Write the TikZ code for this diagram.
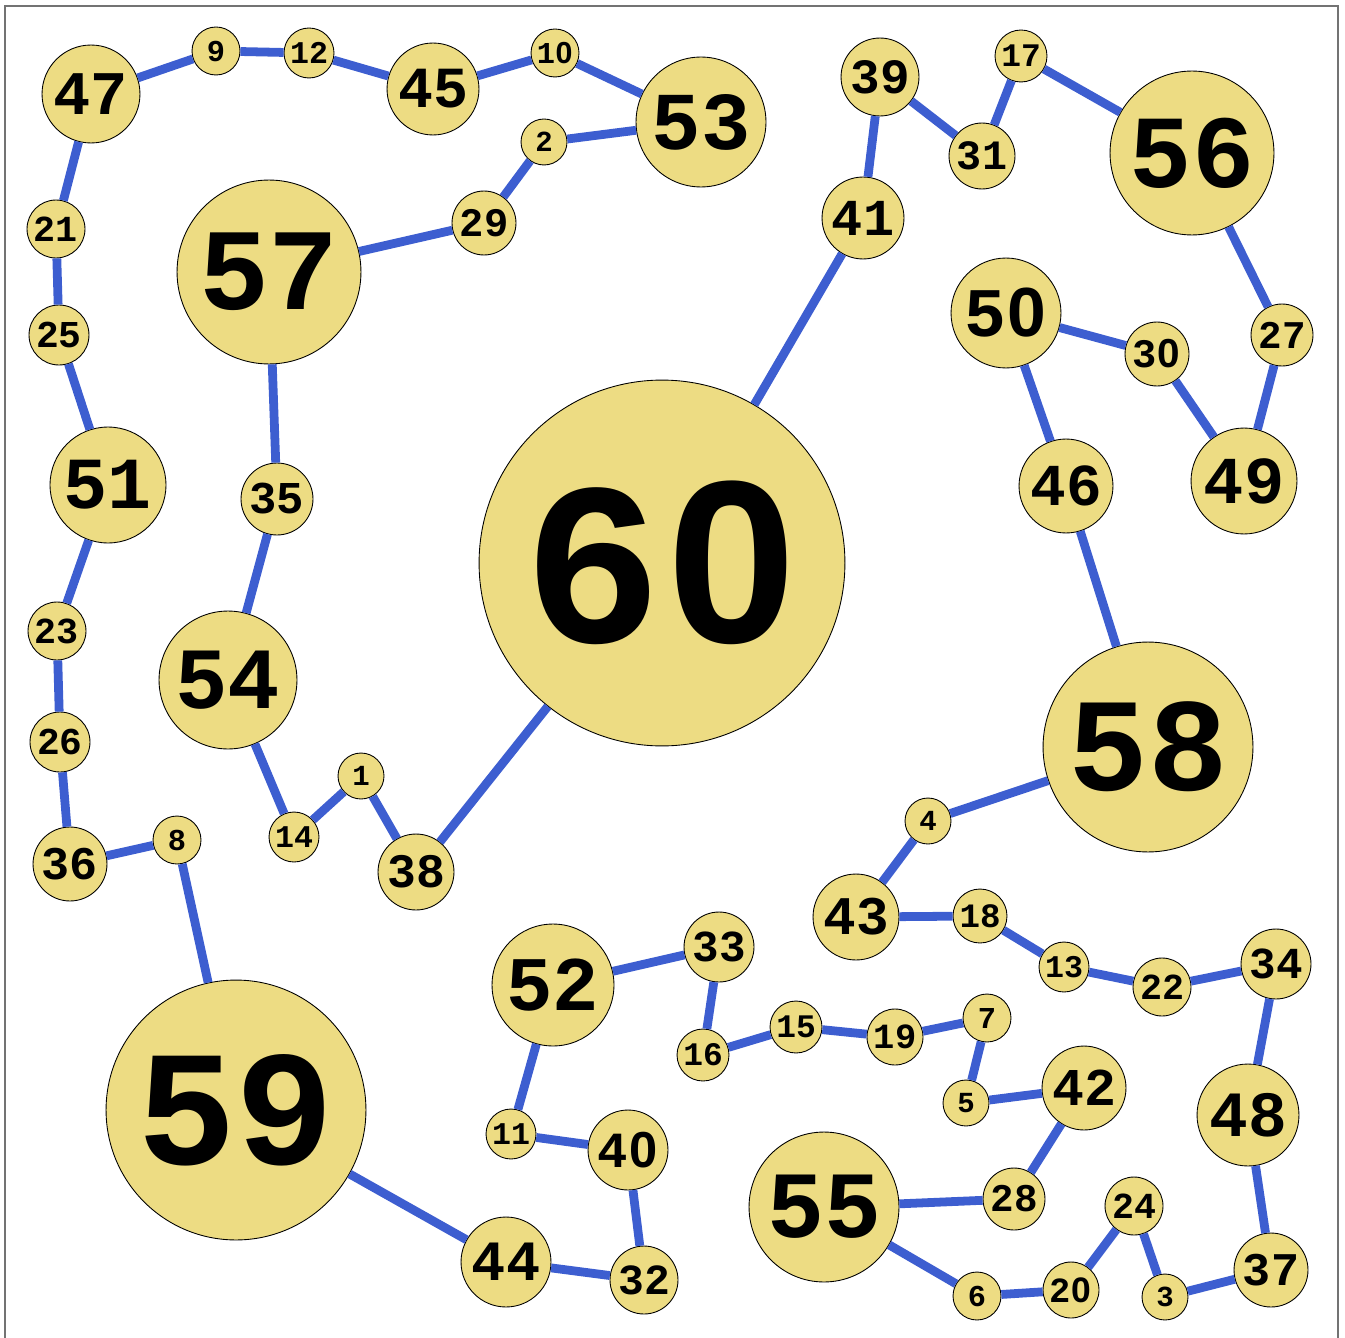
\documentclass[tikz,border=0pt]{standalone}
\usepackage{fontspec}
\setmonofont{Liberation Mono}
\newfontfamily\zerofamily{Liberation Sans}
\usepackage{tikz}
\usetikzlibrary{positioning}

\definecolor{ballfill}{RGB}{237,220,131}
\definecolor{linkblue}{RGB}{61,94,208}
\definecolor{framegray}{RGB}{115,115,115}

% font size follows the radius of the ball
\newcommand{\ballfont}[1]{\pgfmathsetmacro{\ballfs}{0.72*#1}\fontsize{\ballfs pt}{\ballfs pt}\selectfont\ttfamily\bfseries}
% a zero without the dot, kept on the mono advance
\newcommand{\zd}{\makebox[0.6em]{\zerofamily\bfseries 0}}

\begin{document}
\begin{tikzpicture}[x=0.02cm, y=-0.02cm,
  ball/.style={circle, draw=black, line width=0.5pt, fill=ballfill, inner sep=0pt, minimum size={0.04cm*#1}, font=\ballfont{#1}},
  link/.style={draw=linkblue, line width=5pt}]
  \useasboundingbox (0,0) rectangle (1345,1338);
  \draw[framegray, line width=0.8pt] (5,6) rectangle (1338,1360);

  \node[ball=183] (n60) at (662,563) {6\zd};
  \node[ball=130] (n59) at (236,1110) {59};
  \node[ball=105] (n58) at (1148,747) {58};
  \node[ball=92] (n57) at (269,272) {57};
  \node[ball=82] (n56) at (1192,153) {56};
  \node[ball=75] (n55) at (824,1207) {55};
  \node[ball=69] (n54) at (228,680) {54};
  \node[ball=65] (n53) at (701,122) {53};
  \node[ball=61] (n52) at (553,985) {52};
  \node[ball=58] (n51) at (108,485) {51};
  \node[ball=55] (n50) at (1006,313) {5\zd};
  \node[ball=53] (n49) at (1244,481) {49};
  \node[ball=51] (n48) at (1248,1115) {48};
  \node[ball=49] (n47) at (91,94) {47};
  \node[ball=47] (n46) at (1066,486) {46};
  \node[ball=46] (n45) at (433,89) {45};
  \node[ball=45] (n44) at (506,1262) {44};
  \node[ball=43] (n43) at (856,917) {43};
  \node[ball=42] (n42) at (1084,1088) {42};
  \node[ball=41] (n41) at (863,218) {41};
  \node[ball=40] (n40) at (628,1150) {4\zd};
  \node[ball=39] (n39) at (880,77) {39};
  \node[ball=38] (n38) at (416,872) {38};
  \node[ball=37] (n37) at (1271,1270) {37};
  \node[ball=37] (n36) at (70,864) {36};
  \node[ball=36] (n35) at (277,499) {35};
  \node[ball=35] (n34) at (1276,964) {34};
  \node[ball=35] (n33) at (719,947) {33};
  \node[ball=34] (n32) at (644,1280) {32};
  \node[ball=33] (n31) at (982,156) {31};
  \node[ball=32] (n30) at (1157,354) {3\zd};
  \node[ball=32] (n29) at (484,223) {29};
  \node[ball=31] (n28) at (1014,1199) {28};
  \node[ball=31] (n27) at (1282,335) {27};
  \node[ball=30] (n26) at (60,742) {26};
  \node[ball=30] (n25) at (59,335) {25};
  \node[ball=29] (n24) at (1134,1206) {24};
  \node[ball=29] (n23) at (57,631) {23};
  \node[ball=29] (n22) at (1162,987) {22};
  \node[ball=29] (n21) at (56,229) {21};
  \node[ball=28] (n20) at (1071,1290) {2\zd};
  \node[ball=28] (n19) at (895,1037) {19};
  \node[ball=27] (n18) at (980,916) {18};
  \node[ball=26] (n17) at (1021,56) {17};
  \node[ball=26] (n16) at (703,1055) {16};
  \node[ball=26] (n15) at (796,1027) {15};
  \node[ball=25] (n14) at (294,837) {14};
  \node[ball=25] (n13) at (1064,967) {13};
  \node[ball=25] (n12) at (309,53) {12};
  \node[ball=25] (n11) at (511,1134) {11};
  \node[ball=24] (n10) at (555,53) {1\zd};
  \node[ball=24] (n9) at (216,51) {9};
  \node[ball=24] (n8) at (177,840) {8};
  \node[ball=24] (n7) at (987,1018) {7};
  \node[ball=24] (n6) at (977,1296) {6};
  \node[ball=23] (n5) at (966,1103) {5};
  \node[ball=23] (n4) at (928,821) {4};
  \node[ball=23] (n3) at (1165,1297) {3};
  \node[ball=23] (n2) at (544,142) {2};
  \node[ball=23] (n1) at (361,776) {1};

  % the tour through all the balls
  \draw[link] (n47) -- (n9) -- (n12) -- (n45) -- (n10) -- (n53) -- (n2) -- (n29) -- (n57)
    -- (n35) -- (n54) -- (n14) -- (n1) -- (n38) -- (n60) -- (n41) -- (n39) -- (n31) -- (n17)
    -- (n56) -- (n27) -- (n49) -- (n30) -- (n50) -- (n46) -- (n58) -- (n4) -- (n43) -- (n18)
    -- (n13) -- (n22) -- (n34) -- (n48) -- (n37) -- (n3) -- (n24) -- (n20) -- (n6) -- (n55)
    -- (n28) -- (n42) -- (n5) -- (n7) -- (n19) -- (n15) -- (n16) -- (n33) -- (n52) -- (n11)
    -- (n40) -- (n32) -- (n44) -- (n59) -- (n8) -- (n36) -- (n26) -- (n23) -- (n51) -- (n25)
    -- (n21) -- (n47);
\end{tikzpicture}
\end{document}
